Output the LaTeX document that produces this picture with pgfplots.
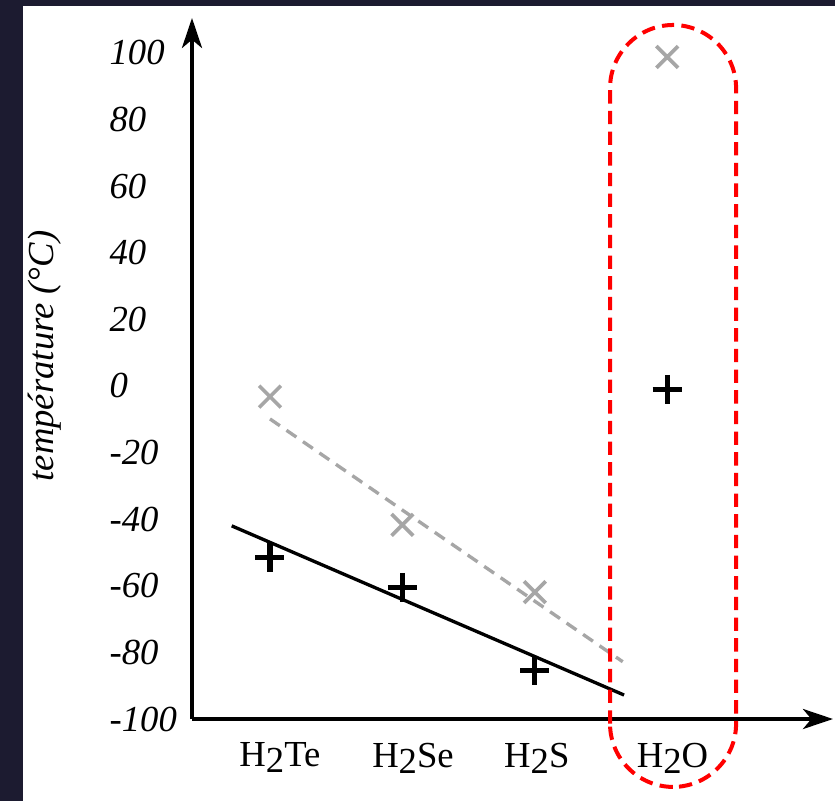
\documentclass[border=0pt]{standalone}
\usepackage{fontspec}
\setmainfont{Liberation Serif}
\usepackage{pgfplots}
\pgfplotsset{compat=1.18}
\usetikzlibrary{arrows.meta,backgrounds}
\definecolor{frame}{RGB}{28,27,48}
\begin{document}
\fontsize{11}{13}\selectfont
\begin{tikzpicture}
\begin{axis}[
  x=39.72pt, y=0.999pt,
  xmin=0.411, xmax=5.252,
  ymin=-100, ymax=110.5,
  axis lines=left,
  axis line style={line width=1.2pt, -{Stealth[length=9pt,width=6pt,inset=2.5pt]}},
  xtick={1.075,2.08,3.015,4.04},
  xticklabels={H\raisebox{-0.16em}{2}Te, H\raisebox{-0.16em}{2}Se, H\raisebox{-0.16em}{2}S, H\raisebox{-0.16em}{2}O},
  ytick={-100,-80,-60,-40,-20,0,20,40,60,80,100},
  yticklabels={-100,-80,-60,-40,-20,0,20,40,60,80,100},
  major tick length=0pt,
  yticklabel style={anchor=west, inner xsep=0pt, xshift=-24.9pt, font=\itshape},
  xticklabel style={yshift=-3.3pt},
  ylabel={\textit{température (°C)}},
  ylabel style={at={(axis cs:-0.699,9)}, anchor=center},
  clip=false,
]
% page corners and the dark frame
\coordinate (pbl) at (axis cs:-1.039,-124.6);
\coordinate (ptr) at (axis cs:5.267,115.9);
\coordinate (wbl) at (axis cs:-0.866,-124.6);
\coordinate (wtr) at (axis cs:5.267,114.1);

% fits
\addplot[black, line width=1pt] coordinates {(0.711,-42) (3.674,-92.8)};
\addplot[gray!70, line width=1pt, dash pattern=on 3.6pt off 2.4pt] coordinates {(1,-9.9) (3.664,-82.8)};

% fusion (+) and ebullition (x)
\addplot[only marks, black, mark=+, mark size=4.35pt, mark options={line width=1.6pt}]
  coordinates {(1,-51.5) (2,-60.5) (3,-85.5) (4,-1)};
\addplot[only marks, gray!70, mark=x, mark size=4.6pt, mark options={line width=1.1pt}]
  coordinates {(1,-3.2) (2,-41.7) (3,-61.9) (4,98.8)};

\draw[red, line width=1.2pt, dash pattern=on 4pt off 2.2pt, rounded corners=19pt]
  (axis cs:3.568,-120.4) rectangle (axis cs:4.520,108.4);
\end{axis}
\begin{scope}[on background layer]
  \fill[frame] (pbl) rectangle (ptr);
  \fill[white] (wbl) rectangle (wtr);
\end{scope}
\end{tikzpicture}
\end{document}
